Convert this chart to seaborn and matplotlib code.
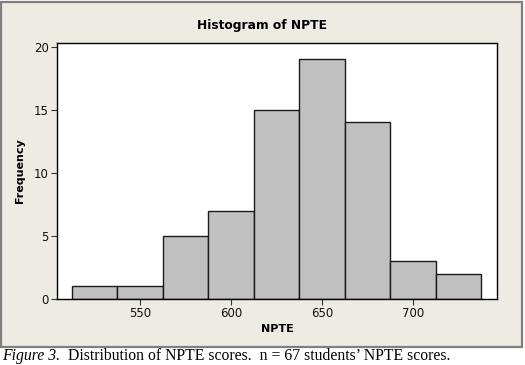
import matplotlib
matplotlib.use("Agg")
import matplotlib.pyplot as plt
import seaborn as sns
from matplotlib.patches import Rectangle

# Data
bin_centers = [525, 550, 575, 600, 625, 650, 675, 700, 725]
counts = [1, 1, 5, 7, 15, 19, 14, 3, 2]
bin_width = 25
x_ticks = [550, 600, 650, 700]
y_ticks = [0, 5, 10, 15, 20]

sns.set_style("ticks")
plt.rcParams['font.family'] = ['DejaVu Sans']

fig = plt.figure(figsize=(5.25, 3.65), dpi=100)
fig.patch.set_facecolor("white")

# beige panel with gray border
panel = Rectangle((1/525, 1 - 347/365), 521/525, 345/365, transform=fig.transFigure,
                  facecolor="#EEEBE2", edgecolor="#7F7F7F", linewidth=1.6, zorder=-5)
fig.add_artist(panel)

ax = fig.add_axes([57/525, 1 - 299/365, 440/525, 256/365])
ax.set_zorder(2)
ax.set_facecolor("white")

edges = [bin_centers[0] - bin_width / 2 + i * bin_width for i in range(len(bin_centers) + 1)]
sns.histplot(x=bin_centers, weights=counts, bins=edges, ax=ax,
             color="#C0C0C0", edgecolor="#1a1a1a", linewidth=1.0, alpha=1.0)

ax.set_xlim(504.4, 746.2)
ax.set_ylim(0, 20.3)
ax.set_xticks(x_ticks)
ax.set_yticks(y_ticks)
for s in ax.spines.values():
    s.set_visible(True)
    s.set_color("black")
    s.set_linewidth(1.0)
ax.tick_params(axis="both", direction="out", length=4, width=0.8, color="#333333",
               labelsize=8.5, labelcolor="#111111", pad=2, top=False, right=False)

ax.set_xlabel("NPTE", fontsize=8, fontweight="bold", labelpad=3, color="black")
ax.set_ylabel("Frequency", fontsize=8, fontweight="bold", labelpad=6, color="black")
fig.text(262/525, 1 - 25/365, "Histogram of NPTE", fontsize=8.8, fontweight="bold",
         color="black", ha="center", va="center")

# caption
cap_y = 1 - 356/365
t1 = fig.text(2/525, cap_y, "Figure 3.", fontsize=11.3, fontstyle="italic",
              family=["Liberation Serif"], va="center", ha="left", color="black")
fig.canvas.draw()
bb = t1.get_window_extent()
fig.text(bb.x1 / fig.bbox.width, cap_y, "  Distribution of NPTE scores.  n = 67 students\u2019 NPTE scores.",
         fontsize=11.3, family=["Liberation Serif"], va="center", ha="left", color="black")

fig.savefig("out.png", dpi=100, facecolor=fig.get_facecolor())
